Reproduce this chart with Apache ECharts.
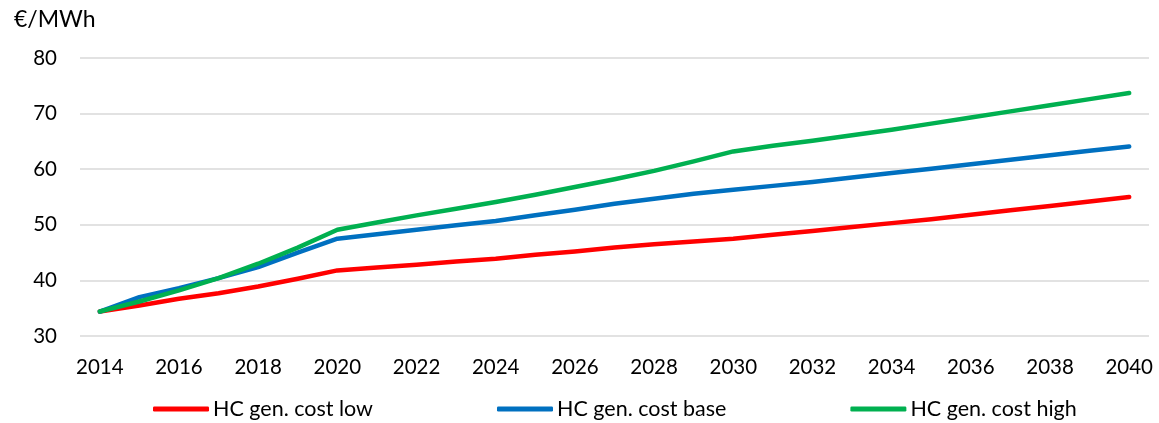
<!DOCTYPE html>
<html>
<head>
<meta charset="utf-8">
<script src="https://cdn.jsdelivr.net/npm/echarts@6/dist/echarts.min.js"></script>
<style>
  html, body { margin: 0; padding: 0; background: #fff; }
  #chart { width: 1159px; height: 423px; }
</style>
</head>
<body>
<div id="chart"></div>
<script>
// Years on the horizontal axis
const years = ['2014','2015','2016','2017','2018','2019','2020','2021','2022','2023','2024','2025','2026','2027',
  '2028','2029','2030','2031','2032','2033','2034','2035','2036','2037','2038','2039','2040'];

// Hard-coal generation cost scenarios, €/MWh
const costLow = [34.4, 35.5, 36.7, 37.7, 38.9, 40.3, 41.8, 42.3, 42.8, 43.4, 43.9, 44.6, 45.2, 45.9,
  46.5, 47.0, 47.5, 48.2, 48.9, 49.6, 50.3, 51.0, 51.8, 52.6, 53.4, 54.2, 55.0];
const costBase = [34.4, 37.0, 38.6, 40.4, 42.4, 45.0, 47.5, 48.3, 49.1, 49.9, 50.7, 51.7, 52.7, 53.8,
  54.7, 55.6, 56.3, 57.0, 57.7, 58.5, 59.3, 60.1, 60.9, 61.7, 62.5, 63.3, 64.1];
const costHigh = [34.4, 36.2, 38.2, 40.4, 43.0, 45.9, 49.1, 50.4, 51.7, 52.9, 54.1, 55.4, 56.8, 58.2,
  59.7, 61.4, 63.2, 64.2, 65.1, 66.1, 67.1, 68.2, 69.3, 70.4, 71.5, 72.6, 73.7];

const seriesNames = ['HC gen. cost low', 'HC gen. cost base', 'HC gen. cost high'];
const seriesColors = ['#FF0000', '#0070C0', '#00B050'];
const unitLabel = '€/MWh';

const FONT = 'Lato';
const chart = echarts.init(document.getElementById('chart'), null, { renderer: 'canvas' });

function lineSeries(name, data, color) {
  return {
    name: name,
    type: 'line',
    data: data,
    symbol: 'none',
    smooth: false,
    lineStyle: { color: color, width: 4.5, cap: 'round', join: 'round' },
    itemStyle: { color: color }
  };
}

chart.setOption({
  animation: false,
  backgroundColor: '#fff',
  textStyle: { fontFamily: FONT },
  title: {
    text: unitLabel,
    left: 14,
    top: 8,
    padding: 0,
    textStyle: { fontFamily: FONT, fontSize: 23, fontWeight: 'normal', color: '#000' }
  },
  grid: { left: 80, right: 10, top: 58, bottom: 87, containLabel: false },
  xAxis: {
    type: 'category',
    data: years,
    boundaryGap: true,
    axisLine: { show: false },
    axisTick: { show: false },
    axisLabel: { interval: 1, margin: 21, fontFamily: FONT, fontSize: 20.5, color: '#000' },
    splitLine: { show: false }
  },
  yAxis: {
    type: 'value',
    min: 30,
    max: 80,
    interval: 10,
    axisLine: { show: false },
    axisTick: { show: false },
    axisLabel: { margin: 23, fontFamily: FONT, fontSize: 20.5, color: '#000' },
    splitLine: { lineStyle: { color: '#D9D9D9', width: 1.5 } }
  },
  legend: {
    left: 153,
    top: 398,
    padding: [0, 0, 0, 0],
    itemGap: 124,
    itemWidth: 56,
    itemHeight: 5,
    icon: 'roundRect',
    textStyle: { fontFamily: FONT, fontSize: 21.5, color: '#000', padding: [0, 0, 0, -1] },
    data: seriesNames
  },
  series: [
    lineSeries(seriesNames[0], costLow, seriesColors[0]),
    lineSeries(seriesNames[1], costBase, seriesColors[1]),
    lineSeries(seriesNames[2], costHigh, seriesColors[2])
  ]
});
</script>
</body>
</html>
